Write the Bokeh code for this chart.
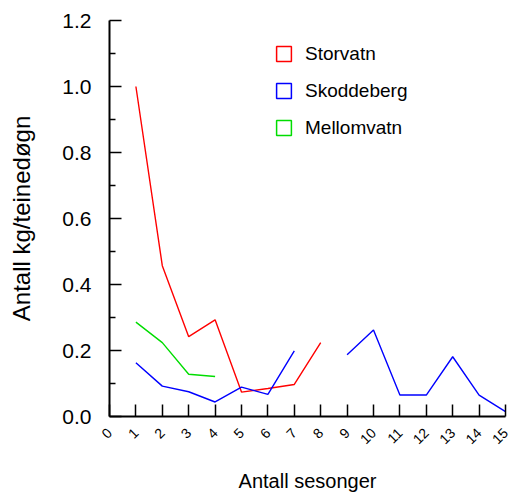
import math
from bokeh.plotting import figure
from bokeh.models import (FixedTicker, PrintfTickFormatter, Legend, LegendItem)
from bokeh.embed import file_html
from bokeh.resources import INLINE

nan = float("nan")
seasons = list(range(1, 16))
x_ticks = list(range(0, 16))
y_ticks = [0.0, 0.2, 0.4, 0.6, 0.8, 1.0, 1.2]
y_minor = [0.1, 0.3, 0.5, 0.7, 0.9, 1.1]
storvatn = [1.0, 0.457, 0.242, 0.293, 0.074, 0.085, 0.097, 0.224]
skoddeberg = [0.163, 0.092, 0.075, 0.044, 0.089, 0.067, 0.199, nan, 0.187, 0.262,
              0.065, 0.065, 0.181, 0.065, 0.015]
mellomvatn = [0.286, 0.224, 0.128, 0.121]
series_names = ["Storvatn", "Skoddeberg", "Mellomvatn"]
colors = ["#ff0000", "#0000ff", "#00dd00"]

FONT = "Liberation Sans"

p = figure(width=509, height=496, x_range=(0, 15), y_range=(0, 1.2),
           output_backend="svg", toolbar_location=None,
           min_border_left=109, min_border_right=4, min_border_top=20, min_border_bottom=80)
p.outline_line_color = None
p.xgrid.visible = False
p.ygrid.visible = False
p.background_fill_color = "white"
p.border_fill_color = "white"

xa = p.xaxis[0]
xa.ticker = FixedTicker(ticks=x_ticks)
xa.major_tick_in = 12
xa.major_tick_out = 0
xa.minor_tick_in = 0
xa.minor_tick_out = 0
xa.axis_line_width = 2
xa.major_tick_line_width = 1.5
xa.major_label_orientation = math.pi / 4
xa.major_label_text_font = FONT
xa.major_label_text_font_size = "14px"
xa.major_label_text_color = "black"
xa.major_label_standoff = 14
xa.axis_label = "Antall sesonger"
xa.axis_label_text_font = FONT
xa.axis_label_text_font_style = "normal"
xa.axis_label_text_font_size = "20px"
xa.axis_label_text_color = "black"
xa.axis_label_standoff = 18

ya = p.yaxis[0]
ya.ticker = FixedTicker(ticks=y_ticks, minor_ticks=y_minor)
ya.formatter = PrintfTickFormatter(format="%.1f")
ya.major_tick_in = 12
ya.major_tick_out = 0
ya.minor_tick_in = 6
ya.minor_tick_out = 0
ya.axis_line_width = 2
ya.major_tick_line_width = 1.5
ya.minor_tick_line_width = 1.5
ya.major_label_text_font = FONT
ya.major_label_text_font_size = "21px"
ya.major_label_text_color = "black"
ya.major_label_standoff = 18
ya.axis_label = "Antall kg/teinedøgn"
ya.axis_label_text_font = FONT
ya.axis_label_text_font_style = "normal"
ya.axis_label_text_font_size = "24px"
ya.axis_label_text_color = "black"
ya.axis_label_standoff = 24

data = [storvatn, skoddeberg, mellomvatn]
items = []
for name, vals, c in zip(series_names, data, colors):
    xs = seasons[:len(vals)]
    p.line(xs, vals, line_color=c, line_width=1.4)
    sq = p.scatter([nan], [nan], marker="square", size=15, fill_color=None,
                   line_color=c, line_width=1.5)
    items.append(LegendItem(label=name, renderers=[sq]))

legend = Legend(items=items, location=(156, 270), orientation="vertical",
                glyph_width=37, glyph_height=37, label_height=37, spacing=0,
                label_standoff=3, padding=0, margin=0,
                border_line_color=None, background_fill_alpha=0,
                label_text_font=FONT, label_text_font_size="19px",
                label_text_color="black")
p.add_layout(legend, "center")

open("out.html", "w").write(file_html(p, INLINE))
